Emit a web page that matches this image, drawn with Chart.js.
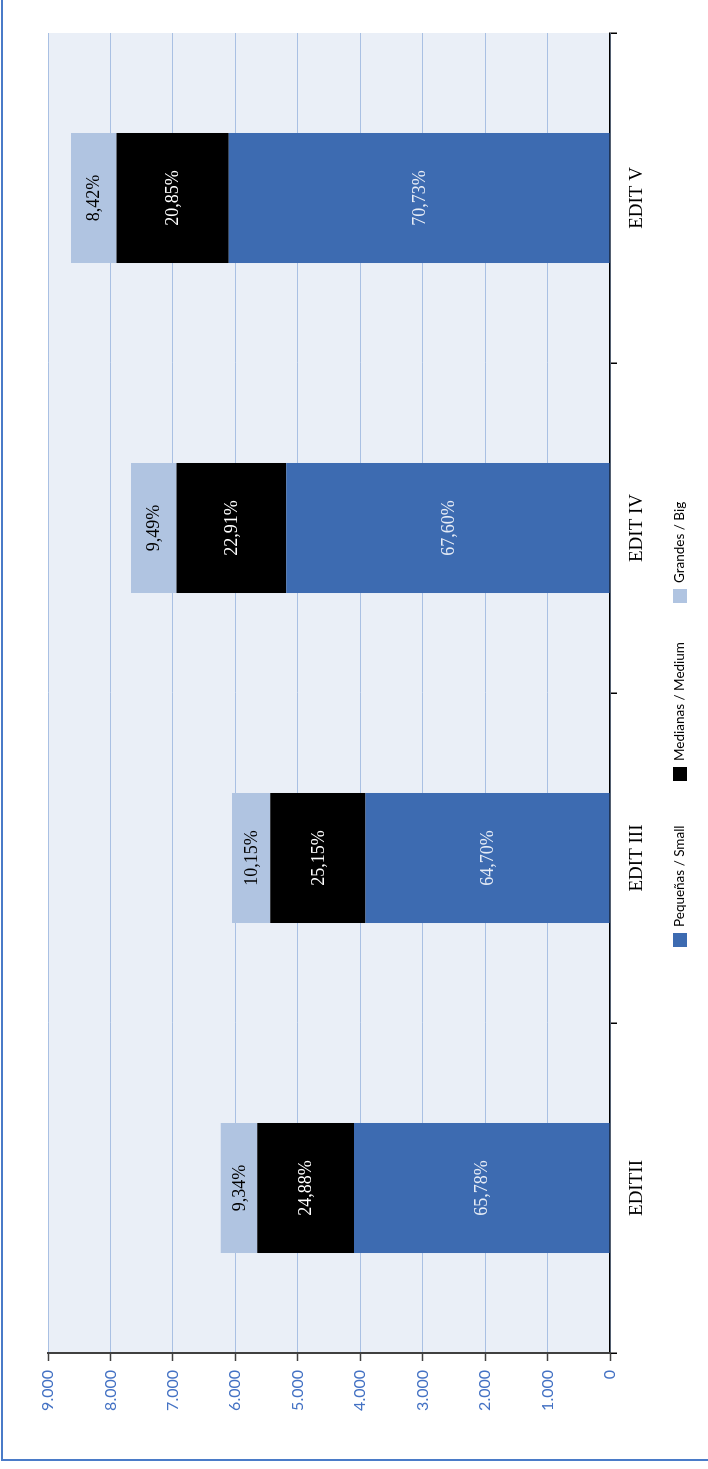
<!DOCTYPE html>
<html>
<head>
<meta charset="utf-8">
<script src="https://cdn.jsdelivr.net/npm/chart.js@4.4.1/dist/chart.umd.min.js"></script>
<style>
  html, body { margin: 0; padding: 0; background: #fff; overflow: hidden; }
  body { width: 708px; height: 1469px; position: relative; }
  #frame {
    position: absolute; left: 1px; top: -10px; width: 800px; height: 1471px;
    border-left: 2px solid #4A7BC8; border-bottom: 2px solid #4A7BC8; box-sizing: border-box;
  }
  #wrap {
    position: absolute; left: 0; top: 0; width: 1469px; height: 708px;
    transform-origin: 0 0; transform: translateY(1469px) rotate(-90deg);
  }
</style>
</head>
<body>
<div id="frame"></div>
<div id="wrap"><canvas id="chart" width="1469" height="708"></canvas></div>
<script>
const categories = ['EDITII', 'EDIT III', 'EDIT IV', 'EDIT V'];
const seriesNames = ['Pequeñas / Small', 'Medianas / Medium', 'Grandes / Big'];
const small = [4100, 3917, 5186, 6105];
const medium = [1550, 1523, 1757, 1800];
const big = [582, 614, 728, 727];
const smallPct = ['65,78%', '64,70%', '67,60%', '70,73%'];
const mediumPct = ['24,88%', '25,15%', '22,91%', '20,85%'];
const bigPct = ['9,34%', '10,15%', '9,49%', '8,42%'];
const valueTicks = [0, 1000, 2000, 3000, 4000, 5000, 6000, 7000, 8000, 9000];

const colors = ['#3D6BB1', '#000000', '#B0C4E1'];
const labelColors = ['#E6ECF6', '#FFFFFF', '#000000'];
const pctLabels = [smallPct, mediumPct, bigPct];

// plot background
const bgPlugin = {
  id: 'bg',
  beforeDraw(chart) {
    const { ctx, chartArea: a } = chart;
    ctx.save();
    ctx.fillStyle = '#EAEFF7';
    ctx.fillRect(a.left, a.top, a.right - a.left, a.bottom - a.top);
    ctx.restore();
  }
};

// percent labels in each segment
const pctPlugin = {
  id: 'pct',
  afterDatasetsDraw(chart) {
    const ctx = chart.ctx;
    ctx.save();
    ctx.font = '18px "Liberation Serif", serif';
    ctx.textAlign = 'center';
    ctx.textBaseline = 'middle';
    chart.data.datasets.forEach((ds, i) => {
      chart.getDatasetMeta(i).data.forEach((el, j) => {
        ctx.fillStyle = labelColors[i];
        ctx.fillText(pctLabels[i][j], el.x, (el.y + el.base) / 2 + 1);
      });
    });
    ctx.restore();
  }
};

// legend under the category labels
const legendPlugin = {
  id: 'myLegend',
  afterDraw(chart) {
    const ctx = chart.ctx;
    const boxX = [522, 688, 866];
    ctx.save();
    ctx.font = '13.5px Lato, sans-serif';
    ctx.textBaseline = 'middle';
    ctx.textAlign = 'left';
    seriesNames.forEach((name, i) => {
      ctx.fillStyle = colors[i];
      ctx.fillRect(boxX[i], 673, 14, 14);
      ctx.fillStyle = '#000';
      ctx.fillText(name, boxX[i] + 20, 680);
    });
    ctx.restore();
  }
};

new Chart(document.getElementById('chart'), {
  type: 'bar',
  data: {
    labels: categories,
    datasets: [
      { label: seriesNames[0], data: small, backgroundColor: colors[0] },
      { label: seriesNames[1], data: medium, backgroundColor: colors[1] },
      { label: seriesNames[2], data: big, backgroundColor: colors[2] }
    ]
  },
  options: {
    responsive: false,
    animation: false,
    layout: { padding: { top: 48, right: 33, left: 0, bottom: 0 } },
    datasets: { bar: { categoryPercentage: 1, barPercentage: 0.394 } },
    plugins: { legend: { display: false }, tooltip: { enabled: false } },
    scales: {
      x: {
        stacked: true,
        afterFit(s) { s.height = 98; },
        border: { color: '#000', width: 1.5 },
        grid: { offset: true, drawOnChartArea: false, tickLength: 7, color: '#000', lineWidth: 1.5 },
        ticks: { color: '#000', padding: 9, font: { family: '"Liberation Serif", serif', size: 19 } }
      },
      y: {
        stacked: true,
        min: 0,
        max: 9000,
        afterFit(s) { s.width = 116; },
        afterBuildTicks(s) { s.ticks = valueTicks.map(v => ({ value: v })); },
        border: { color: '#404040', width: 2 },
        grid: { color: '#A9C0E3', lineWidth: 1, tickLength: 8, tickColor: '#404040', tickWidth: 1.5 },
        ticks: {
          color: '#4472C4',
          padding: 9,
          font: { family: 'Lato, sans-serif', size: 16 },
          callback: v => v === 0 ? '0' : v.toLocaleString('de-DE')
        }
      }
    }
  },
  plugins: [bgPlugin, pctPlugin, legendPlugin]
});
</script>
</body>
</html>
